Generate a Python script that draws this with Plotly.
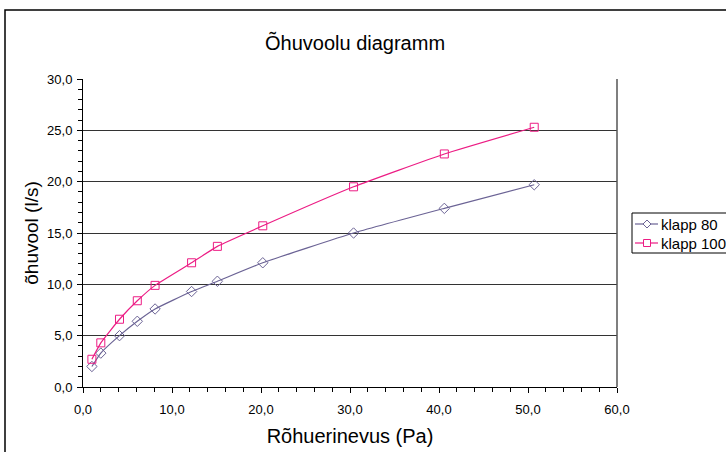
import plotly.graph_objects as go

x_pa = [1.0, 2.0, 4.1, 6.1, 8.1, 12.2, 15.1, 20.2, 30.4, 40.6, 50.7]
klapp80 = [2.0, 3.3, 5.0, 6.4, 7.6, 9.3, 10.3, 12.1, 15.0, 17.4, 19.7]
klapp100 = [2.7, 4.3, 6.6, 8.4, 9.9, 12.1, 13.7, 15.7, 19.5, 22.7, 25.3]
names = ["klapp 80", "klapp 100"]
colors = ["#6b6395", "#ec1c84"]
x_ticks = [0, 10, 20, 30, 40, 50, 60]
y_ticks = [0, 5, 10, 15, 20, 25, 30]

W, H = 726, 452
# plot area in screenshot pixels
L, R, T, B = 83, 617, 79, 387

FONT = "Liberation Sans, Arial, sans-serif"

fig = go.Figure()
fig.add_trace(go.Scatter(
    x=x_pa, y=klapp80, name=names[0], mode="lines+markers", showlegend=False,
    line=dict(color=colors[0], width=1.2, shape="spline", smoothing=0.4),
    marker=dict(symbol="diamond-open", size=8, color=colors[0], line=dict(width=1))
))
fig.add_trace(go.Scatter(
    x=x_pa, y=klapp100, name=names[1], mode="lines+markers", showlegend=False,
    line=dict(color=colors[1], width=1.2, shape="spline", smoothing=0.4),
    marker=dict(symbol="square-open", size=8, color=colors[1], line=dict(width=1))
))

def px_x(s):
    return (s - L) / (R - L)

def px_y(s):
    return (B - s) / (B - T)

# outer chart border (clipped at right/bottom in reference)
fig.add_shape(type="rect", xref="paper", yref="paper",
              x0=px_x(5), x1=px_x(760), y0=px_y(480), y1=px_y(10),
              line=dict(color="black", width=1.5), layer="below")
# plot-area right border
fig.add_shape(type="line", xref="paper", yref="paper",
              x0=1, x1=1, y0=0, y1=1, line=dict(color="#555555", width=1.5))

# legend (drawn manually to match the compact Excel-style key)
fig.add_shape(type="rect", xref="paper", yref="paper",
              x0=px_x(632), x1=px_x(760), y0=px_y(253), y1=px_y(213),
              line=dict(color="black", width=1), fillcolor="white")
rows = [224, 243]
for i, (nm, col, yy) in enumerate(zip(names, colors, rows)):
    fig.add_shape(type="line", xref="paper", yref="paper",
                  x0=px_x(635), x1=px_x(658), y0=px_y(yy), y1=px_y(yy),
                  line=dict(color=col, width=1.2))
    cx, cy = 647, yy
    if i == 0:
        path = (f"M {px_x(cx-4)},{px_y(cy)} L {px_x(cx)},{px_y(cy-4)} "
                f"L {px_x(cx+4)},{px_y(cy)} L {px_x(cx)},{px_y(cy+4)} Z")
        fig.add_shape(type="path", xref="paper", yref="paper", path=path,
                      line=dict(color=col, width=1), fillcolor="white")
    else:
        fig.add_shape(type="rect", xref="paper", yref="paper",
                      x0=px_x(cx-3.5), x1=px_x(cx+3.5), y0=px_y(cy+3.5), y1=px_y(cy-3.5),
                      line=dict(color=col, width=1), fillcolor="white")
    fig.add_annotation(x=px_x(659), y=px_y(yy), xref="paper", yref="paper",
                       text=nm, showarrow=False, xanchor="left", yanchor="middle",
                       font=dict(size=15, family=FONT, color="black"))

fig.update_layout(
    width=W, height=H,
    margin=dict(l=L, r=W - R, t=T, b=H - B, autoexpand=False),
    paper_bgcolor="white", plot_bgcolor="white",
    separators=",.",
    font=dict(family=FONT, color="black", size=13),
    showlegend=False,
    title=dict(text="Õhuvoolu diagramm", x=px_x(355), xref="paper", xanchor="center",
               y=1 - 43 / H, yanchor="middle", font=dict(size=20, family=FONT)),
    xaxis=dict(range=[0, 60], tickvals=x_ticks, tickformat=".1f",
               showgrid=False, zeroline=False, showline=True, linecolor="black", linewidth=1,
               ticks="outside", ticklen=5, tickcolor="black", ticklabelstandoff=5,
               minor=dict(dtick=2, ticks="outside", ticklen=4, tickcolor="black", showgrid=False),
               tickfont=dict(size=13), automargin=False,
               title=dict(text="Rõhuerinevus (Pa)", font=dict(size=20), standoff=13)),
    yaxis=dict(range=[0, 30], tickvals=y_ticks, tickformat=".1f",
               showgrid=True, gridcolor="#333333", gridwidth=1.3,
               zeroline=False, showline=True, linecolor="black", linewidth=1,
               ticks="outside", ticklen=5, tickcolor="black", ticklabelstandoff=2,
               minor=dict(dtick=1, ticks="outside", ticklen=4, tickcolor="black", showgrid=False),
               tickfont=dict(size=13), automargin=False,
               title=dict(text="õhuvool (l/s)", font=dict(size=19), standoff=3)),
)

fig.write_html(
    "out.html",
    config={"displayModeBar": False},
    post_script="document.body.style.margin='0';document.body.style.overflow='hidden';",
)
